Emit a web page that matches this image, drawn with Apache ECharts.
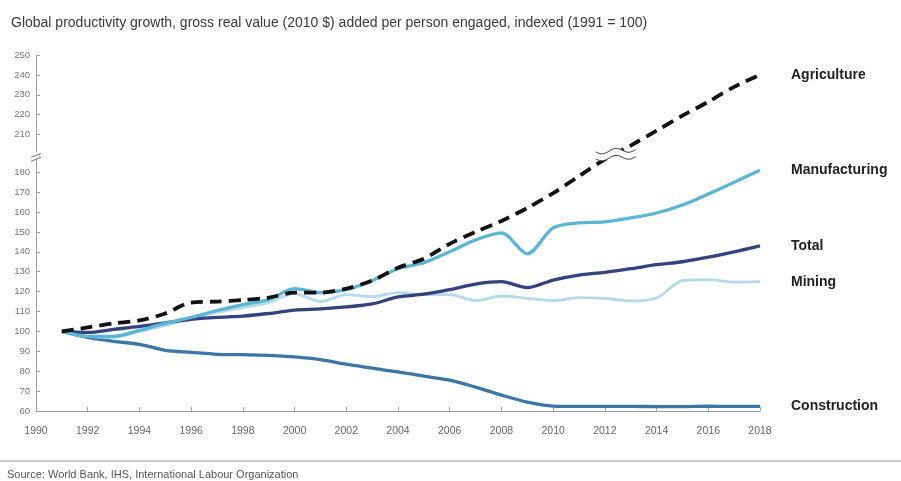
<!DOCTYPE html>
<html><head><meta charset="utf-8">
<script src="https://cdn.jsdelivr.net/npm/echarts@6/dist/echarts.min.js"></script>
<style>html,body{margin:0;padding:0;background:#fff}#c{width:901px;height:481px}</style>
</head><body><div id="c"></div>
<script>
const titleText = 'Global productivity growth, gross real value (2010 $) added per person engaged, indexed (1991 = 100)';
const sourceText = 'Source: World Bank, IHS, International Labour Organization';
const years = [1991,1992,1993,1994,1995,1996,1997,1998,1999,2000,2001,2002,2003,2004,2005,2006,2007,2008,2009,2010,2011,2012,2013,2014,2015,2016,2017,2018];
const agriculture = [100,102,104,105.5,109,114.5,115,115.8,117,119.5,119.5,121.5,125.5,132,136.5,144,150,155.5,162,169.5,178,186.5,204.5,212,219.5,226.5,234,240];
const manufacturing = [100,97.5,97.5,100.5,104,107,110.5,113.5,116,121.5,119.5,121,125.5,131.5,134.5,140,146,149.5,139,152,154.5,155,157,159.5,163.5,169,175,181];
const total = [100,99.5,101,102.5,104.3,106,107,107.7,109,110.7,111.3,112.3,113.8,117.3,118.7,121,123.8,125,122,125.8,128.3,129.7,131.5,133.5,135,137.3,140,143];
const mining = [100,97.5,97,100,103,106.5,109.5,112,114.5,119,115,118.5,117.5,119.5,118.5,118.5,115.5,117.8,116.6,115.5,117,116.6,115.3,116.8,125.5,126,124.8,125];
const construction = [100,97,95,93.5,90.5,89.5,88.5,88.3,88,87.2,85.8,83.5,81.5,79.7,77.5,75.5,72,68,64.5,62.5,62.3,62.3,62.3,62.2,62.2,62.4,62.3,62.3];
const seriesNames = ['Construction','Mining','Total','Manufacturing','Agriculture'];
const seriesColors = ['#3a77a6','#b3d9ea','#34427e','#5bb5d5','#111111'];
const yBreak = {start: 188, end: 200};

const pairs = arr => years.map((y, i) => [y, arr[i]]);
const dataSets = [construction, mining, total, manufacturing, agriculture];

const chart = echarts.init(document.getElementById('c'));
const labelFont = 'Liberation Sans, Arial, sans-serif';

const series = dataSets.map((arr, i) => ({
  name: seriesNames[i],
  type: 'line',
  data: pairs(arr),
  smooth: 0.3,
  showSymbol: false,
  z: 2 + i,
  lineStyle: {
    color: seriesColors[i],
    width: seriesNames[i] === 'Agriculture' ? 3.8 : (seriesNames[i] === 'Mining' ? 2.8 : 3.3),
    type: seriesNames[i] === 'Agriculture' ? [12, 7] : 'solid',
    cap: 'butt'
  },
  itemStyle: {color: seriesColors[i]},
  endLabel: {
    show: true,
    formatter: '{a}',
    distance: 31,
    fontSize: 14,
    fontWeight: 'bold',
    fontFamily: labelFont,
    color: '#222'
  }
}));

chart.setOption({
  animation: false,
  backgroundColor: '#fff',
  title: {
    text: titleText, left: 6, top: 11,
    textStyle: {fontSize: 14, fontWeight: 'normal', color: '#3a3a3a', fontFamily: labelFont}
  },
  grid: {left: 36, right: 141, top: 55, bottom: 70},
  xAxis: {
    type: 'value', min: 1990, max: 2018, interval: 2,
    axisLine: {lineStyle: {color: '#a0a0a0'}},
    axisTick: {show: true, inside: true, length: 4, lineStyle: {color: '#a0a0a0'}},
    axisLabel: {color: '#666', fontSize: 10.5, margin: 15, fontFamily: labelFont, formatter: v => String(v)},
    splitLine: {show: false}
  },
  yAxis: {
    type: 'value', min: 60, max: 250, interval: 10,
    breaks: [{start: yBreak.start, end: yBreak.end, gap: '0.5%'}],
    breakArea: {show: false},
    axisLine: {show: true, lineStyle: {color: '#a0a0a0'}},
    axisTick: {show: true, inside: true, length: 4, lineStyle: {color: '#a0a0a0'}},
    axisLabel: {
      color: '#777', fontSize: 9.5, margin: 6, fontFamily: labelFont,
      formatter: v => ((v >= yBreak.start && v <= yBreak.end) || v % 10 !== 0) ? '' : String(v)
    },
    splitLine: {show: false}
  },
  series: series
});

// decorations: axis break marks and the break mark on the Agriculture line
const pLow = chart.convertToPixel({gridIndex: 0}, [1990, yBreak.start - 2]);
const pHigh = chart.convertToPixel({gridIndex: 0}, [1990, yBreak.end + 1]);
const ax = pLow[0], ay = (pLow[1] + pHigh[1]) / 2;
const iA = years.indexOf(2012), iB = years.indexOf(2013);
const a1 = chart.convertToPixel({gridIndex: 0}, [years[iA], agriculture[iA]]);
const a2 = chart.convertToPixel({gridIndex: 0}, [years[iB], agriculture[iB]]);
const cx = (a1[0] + a2[0]) / 2 - 2, cy = (a1[1] + a2[1]) / 2 + 3;

function wave(x0, y0, w, amp, dy) {
  const pts = [];
  for (let t = 0; t <= w; t += 1) {
    pts.push([x0 - w / 2 + t, y0 + dy + amp * Math.sin(t / w * Math.PI * 3) - t * 0.06]);
  }
  return pts;
}
const w1 = wave(cx, cy, 40, 2.3, -3.5);
const w2 = wave(cx, cy, 40, 2.3, 3.5);

chart.setOption({
  graphic: [
    {type: 'rect', shape: {x: ax - 3, y: ay - 4, width: 6, height: 6}, style: {fill: '#fff'}, z: 100},
    {type: 'line', shape: {x1: ax - 5, y1: ay + 1, x2: ax + 5, y2: ay - 3}, style: {stroke: '#777', lineWidth: 1}, z: 101},
    {type: 'line', shape: {x1: ax - 5, y1: ay + 5, x2: ax + 5, y2: ay + 1}, style: {stroke: '#777', lineWidth: 1}, z: 101},
    {type: 'polygon', shape: {points: w1.concat(w2.slice().reverse())}, style: {fill: '#fff'}, z: 100},
    {type: 'polyline', shape: {points: w1, smooth: 0.3}, style: {stroke: '#333', lineWidth: 1, fill: null}, z: 101},
    {type: 'polyline', shape: {points: w2, smooth: 0.3}, style: {stroke: '#333', lineWidth: 1, fill: null}, z: 101},
    {type: 'line', shape: {x1: 0, y1: 461, x2: 901, y2: 461}, style: {stroke: '#9a9a9a', lineWidth: 1}},
    {type: 'text', left: 7, top: 469, style: {text: sourceText, fontSize: 11, fill: '#555', fontFamily: labelFont}}
  ]
});
</script></body></html>
